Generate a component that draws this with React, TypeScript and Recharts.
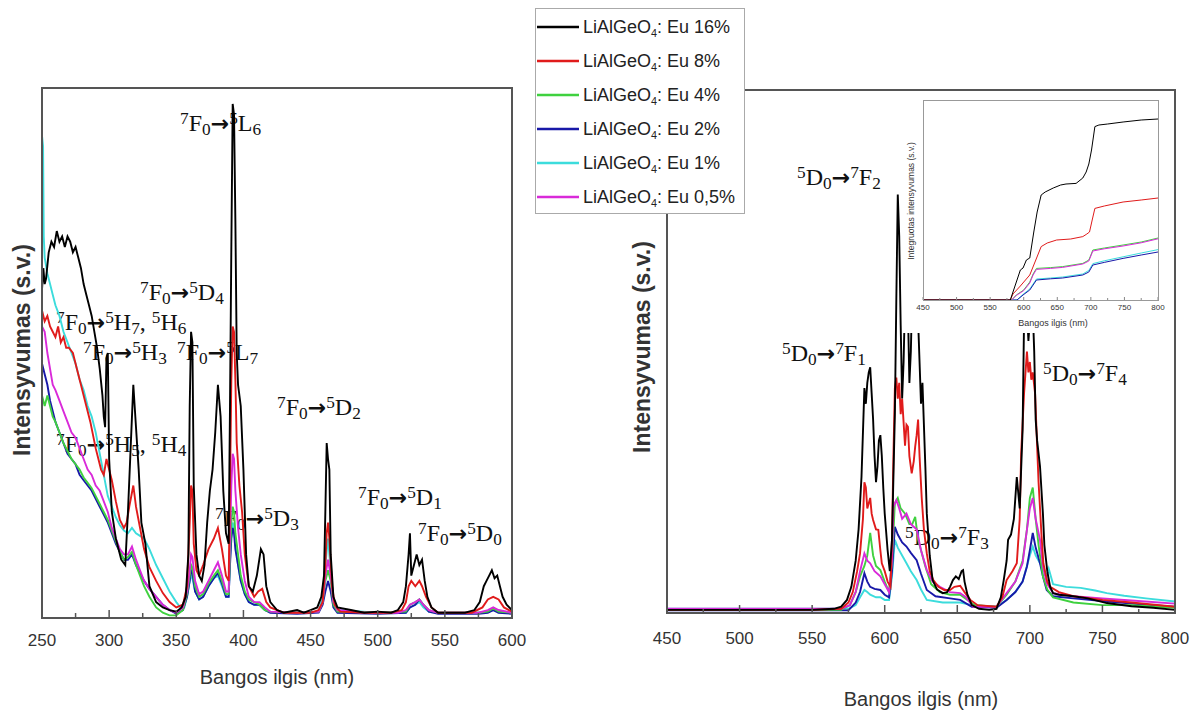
import React from 'react';
import { LineChart, Line, XAxis, YAxis } from 'recharts';

type Pt = [number, number];
type Term = [string, string, string];

const concentrations = ['16%', '8%', '4%', '2%', '1%', '0,5%'];

// excitation spectra (left panel): [nm, intensity]
const exc16: Pt[] = [[250,62],[251,66],[252,63],[253,64],[255,69],[257,71],[259,70],[261,73],[263,71],[265,72],[267,70],[269,72],[271,71],[273,69],[275,70],[277,68],[279,66],[281,63],[283,61],[285,59],[287,57],[289,54],[291,51],[293,47],[295,42],[296,38],[297,36],[298,49],[299,50],[300,30],[302,20],[305,15],[309,11],[312,10],[314,20],[316,32],[318,44],[320,36],[322,28],[324,18],[327,14],[330,6],[335,3],[340,2],[345,1.5],[350,1.2],[354,2],[357,4],[359,12],[360,40],[361,54],[362,52],[363,25],[365,12],[367,8],[369,7],[371,10],[373,18],[375,24],[377,28],[379,35],[381,44],[383,38],[385,24],[387,16],[389,14],[390,40],[391,70],[392,97],[393,95],[394,75],[395,50],[396,44],[398,40],[400,28],[402,12],[404,6],[407,5],[410,8],[413,13],[415,12],[417,6],[420,3],[425,1.5],[430,1],[440,1.5],[445,1],[450,1.5],[455,2],[458,4],[460,8],[461,20],[462,33],[463,30],[464,28],[465,12],[467,4],[470,2],[480,1.5],[490,1],[500,1.2],[510,1],[515,1.5],[519,3],[521,6],[523,12],[524,16],[525,8],[527,10],[529,12],[531,10],[533,11],[535,7],[537,4],[540,2],[545,1],[555,1],[565,1],[572,1.5],[576,3],[579,6],[581,7],[583,8],[585,9],[587,7.5],[589,8],[591,6],[593,4],[596,2.5],[600,1.5]];
const exc8: Pt[] = [[250,58],[252,56],[254,57],[256,55],[258,54],[260,53],[262,55],[264,52],[266,53],[268,51],[270,51],[273,50],[276,47],[279,44],[282,41],[286,37],[290,32],[294,28],[296,27],[298,30],[300,28],[302,26],[305,22],[308,18.5],[311,17],[313,18],[315,21],[318,25],[320,21],[323,17],[326,13],[330,9.6],[335,7],[340,4.7],[345,3],[350,2],[355,2.5],[358,6],[360,18],[361,25],[362,24],[363,14],[365,9],[367,8],[370,10],[374,13],[378,15],[381,17],[384,13],[387,8],[389,7],[390,25],[391,45],[392,55],[393,54],[394,45],[395,33],[397,25],[399,20],[401,12],[404,6],[408,4],[411,5],[414,5.5],[417,3],[420,2],[430,1],[450,1],[456,1.5],[459,3],[461,10],[462,16],[463,18],[464,15],[466,6],[468,2.5],[472,1.2],[490,1],[510,1],[518,1.5],[521,3],[523,6],[525,7],[528,6],[531,7],[533,6],[536,4],[540,2],[545,1],[570,1],[578,2],[582,3.5],[586,4],[590,3.5],[594,2],[600,1.2]];
const exc4: Pt[] = [[250,42],[252,40],[254,42],[256,40],[258,38],[260,37],[263,35],[266,33],[269,31.5],[272,30],[275,29],[278,28],[281,26.5],[284,25.5],[287,24.5],[290,23],[293,21.5],[296,20],[299,18.5],[302,16.5],[305,14.5],[308,12.5],[311,11],[314,11.5],[317,12.5],[320,10],[323,8],[326,6],[330,4],[335,2],[340,1],[345,0.5],[350,0.5],[355,1.5],[358,4.5],[360,8],[361,10],[362,9.5],[364,6],[367,4],[370,4.5],[374,6.5],[378,8],[381,9],[384,7],[387,4.5],[389,4.5],[390,12],[391,18],[392,21],[393,20],[394,16],[396,12],[398,8],[401,5],[404,3.5],[408,3],[412,2.5],[416,1.5],[420,1.2],[440,1],[456,1.2],[459,3],[461,7],[463,9],[465,7],[467,2.5],[470,1.2],[500,1],[521,1.2],[524,2.5],[528,3],[531,3.5],[534,2.5],[538,1.5],[545,1],[575,1],[582,1.2],[586,1.8],[590,1.2],[600,1]];
const exc2: Pt[] = [[250,48],[252,46],[254,44],[256,41],[258,39],[260,37],[263,35],[266,33],[269,31],[272,30],[275,29],[278,27],[281,26],[284,25],[287,24],[290,22.5],[293,21],[296,19.5],[299,18],[302,16],[305,14],[308,12.5],[311,11],[314,11],[317,12],[320,10],[323,8.5],[326,7],[330,5.5],[335,4],[340,2.5],[345,1.5],[350,0.8],[355,1.5],[358,4],[360,7],[361,9],[362,8.5],[364,5],[367,3.5],[370,4],[374,6],[378,7.5],[381,8.5],[384,6.5],[387,4],[389,4],[390,10],[391,15],[392,17],[393,16],[394,13],[396,10],[398,7],[401,4.5],[404,3],[408,2.5],[412,2.5],[416,1.5],[420,1],[440,0.8],[456,1],[459,2.5],[461,5],[463,7],[465,5],[467,2],[470,1],[500,0.8],[521,1],[524,2],[528,2.5],[531,3.5],[534,2.5],[538,1.2],[545,0.8],[575,0.8],[582,1],[586,1.5],[590,1],[600,0.8]];
const exc1: Pt[] = [[250,91],[250.8,89],[251.3,72],[252,68],[254,65],[256,63],[258,61],[260,59],[263,57],[266,54],[269,52],[272,50],[275,48],[278,45],[281,43],[284,40],[287,38],[290,35],[293,31],[296,27],[299,23],[302,21],[305,19],[308,17.5],[311,16.5],[314,16],[317,17],[320,16],[323,15.5],[326,15],[330,13],[335,10],[340,7.5],[345,5],[350,3],[353,2],[356,2],[358,4],[360,7],[361,8],[362,7.5],[364,5],[367,3.5],[370,4],[374,6],[378,7.5],[381,8],[384,6],[387,4],[389,4],[390,11],[391,16],[392,18],[393,17],[394,14],[396,10],[398,7],[401,4.5],[404,3],[408,2.5],[412,2.5],[416,1.5],[420,1.2],[440,1],[456,1.2],[459,4],[461,10],[463,15],[465,9],[467,3],[470,1.5],[500,1],[521,1],[524,2],[528,2.5],[531,3],[534,2],[538,1.2],[545,1],[575,1],[582,1.2],[586,1.5],[590,1.2],[600,1]];
const exc05: Pt[] = [[250,55],[252,54],[254,50],[256,47],[258,44],[260,43],[263,41],[266,39],[269,37],[272,35],[275,34],[278,32],[281,30],[284,28],[287,27],[290,25],[293,24],[296,22],[299,20],[302,17],[305,15],[308,13],[311,12],[314,12],[317,13.5],[320,11],[323,9],[326,7],[330,5.5],[335,4],[340,2.5],[345,1.5],[350,1],[355,2],[358,5],[360,9],[361,12],[362,11.5],[364,7],[367,4.5],[370,5],[374,7],[378,9],[381,10.5],[384,8],[387,5],[389,5],[390,15],[391,25],[392,31],[393,30],[394,24],[396,17],[398,12],[401,7],[404,4],[408,3],[412,3],[416,2],[420,1.2],[440,1],[456,1.2],[459,3],[461,8],[463,11],[465,8],[467,3],[470,1.5],[490,1],[515,1],[521,1.5],[524,2.5],[528,3],[531,3.5],[534,2.5],[538,1.5],[545,1],[575,1],[582,1.5],[586,2],[590,1.5],[600,1]];

// emission spectra (right panel)
const em16: Pt[] = [[450,0.6],[500,0.6],[550,0.6],[565,0.8],[570,1.2],[574,2.5],[577,5],[580,10],[582,16],[584,26],[586,43],[587,40],[588,44],[589,46],[590,47],[591,42],[592,37],[593,30],[594,25],[595,28],[596,33],[597,34],[598,30],[599,24],[600,19],[602,12],[603.5,8],[605,14],[606,26],[607,38],[608,60],[609,80],[610,72],[611,55],[612,41],[613,48],[614,60],[615,66],[616,58],[617,44],[618,50],[619,62],[620,66],[621,60],[622,66],[623,56],[624,48],[625,40],[626,44],[627,36],[628,28],[629,19],[631,11],[633,6.3],[636,4.5],[640,3.8],[643,4],[645,5],[647,6.3],[649,7],[651,6.5],[653,8],[654,8.2],[655,6],[657,3.5],[660,1.5],[665,0.8],[672,0.6],[677,0.8],[680,3],[682,6.3],[684,10],[685,14],[687,15],[689,18],[691,26],[693,20],[695,35],[696,56],[697,64],[698,58],[699,52],[700,56],[701,62],[702,58],[703,50],[704,37],[705,33],[707,28],[709,19],[710,13],[712,8],[714,5],[716,3.8],[720,3.5],[730,3.2],[740,2.8],[753,1.9],[770,1.3],[785,1],[800,0.6]];
const em8: Pt[] = [[450,0.6],[550,0.6],[570,0.8],[575,2],[578,4],[581,8],[583,11.4],[585,18],[586,25],[587,24],[588,20],[590,22],[591,19],[592,17.8],[594,16],[595.6,15.9],[597,12],[598,9.5],[600,8],[602,6],[604,5],[605,14],[606,30],[607,43],[608,45],[609,41],[610,44],[611,38],[612,41],[614,32],[615,36],[616,35.6],[617,30],[618.6,26.7],[620,29],[621,31.8],[622,34],[623,37],[624,30],[625.5,22],[627,16],[629,11.4],[631,8],[633.5,6.3],[637,5],[641,4.4],[645,4.4],[648,5],[652,5.2],[655,4],[659,2.5],[664,1.5],[677,1.2],[681,3],[684,6.3],[688,8],[691,9.5],[693,18],[694,30.5],[696,42],[698,50],[699,46],[700,48],[701,44.6],[702,46],[703.6,42],[705,32],[706,25],[708,15],[709.3,9.5],[712,6],[714,5],[720,4],[730,3.2],[750,2.5],[770,2],[800,1.2]];
const em4: Pt[] = [[450,0.6],[570,0.6],[576,1.5],[580,4],[583,7],[586,9],[588,11],[590,15.3],[592,11],[594,9],[597,8.2],[600,6],[603,4],[605,10],[607,21],[609,22],[611,20],[614,19],[617,17],[619,17],[621,18.4],[623,14],[625,12],[628,8.9],[632,5.5],[638,4],[645,3.5],[652,3.5],[657,2.5],[662,1.5],[677,1.2],[684,3.5],[690,6],[695,10],[698,16],[700,22],[702,24],[704,18],[706,13],[709,7],[712,4.5],[716,3],[730,2],[750,1.5],[770,1.5],[800,1]];
const em2: Pt[] = [[450,0.5],[575,0.5],[580,2],[583,4],[586,7.6],[588,6],[590,5],[593,4.6],[597,4.4],[600,3.5],[603,3],[605,8],[607,16.5],[609,15],[612,13.5],[615,12.7],[618,11.5],[622,10.1],[625,7.5],[629,4.4],[635,3.2],[645,2.8],[652,2.5],[660,1.2],[677,1],[684,2.5],[690,4],[695,6],[698,8.9],[700,12],[702,15.3],[704,12.5],[707,9.5],[709,7],[711.6,4.4],[716,3.2],[730,2.8],[750,2.3],[770,1.8],[800,1.2]];
const em1: Pt[] = [[450,0.8],[575,0.8],[580,1.5],[583,3],[586,4.4],[588,4],[590,3.5],[594,3],[597,3],[600,2.5],[603,2.5],[605,7],[607,14],[609,12.5],[612,11],[615,9.5],[618,8],[622,6.3],[625,4.5],[629,2.5],[640,2],[652,2],[660,1.5],[677,1.2],[684,2.5],[690,4],[695,6],[698,9],[700,11],[702,12.7],[704,11],[707,9.5],[709,8.5],[711.6,7],[713,8.5],[716,5.5],[725,5],[735,4.8],[745,4.3],[753,3.8],[765,3.3],[780,2.8],[800,2.2]];
const em05: Pt[] = [[450,0.8],[570,0.8],[576,1.5],[580,4],[583,8],[586,11.4],[588,10],[590,9.5],[593,8],[597,7],[600,5.5],[603,4],[605,10],[606,20.3],[608,21.6],[610,20],[612,18],[615,19],[618,17],[620,16.5],[622,16],[625,12],[629,8.2],[633,6],[638,5],[645,4],[652,3.8],[656,3],[661,1.2],[677,1.2],[684,3.8],[690,6],[695,9.5],[698,16],[700,20],[702,22],[704,18],[707,14],[709,9],[711.6,5.7],[716,3.8],[730,3.2],[750,2.8],[770,2.4],[800,1.8]];

// integrated intensity (inset)
const int16: Pt[] = [[450,0],[580,0],[584,4],[590,10],[595,15],[599,16],[604,20],[609,21],[615,34],[620,44],[626,52.5],[632,54],[644,56],[655,57.5],[663,58],[678,58.3],[688,61],[693,64],[697,68],[701,75],[704,82],[706,86.7],[712,87.5],[725,88],[748,89],[775,90],[800,90.5]];
const int8: Pt[] = [[450,0],[580,0],[584,3],[595,7],[609,12.5],[618,20],[626,26.7],[635,28.5],[649,30],[670,30.5],[688,31.7],[694,33],[698,34],[702,40],[706,45.8],[720,47],[748,49],[775,50],[800,51]];
const int4: Pt[] = [[450,0],[582,0],[589,2.5],[600,5],[609,9],[614,13],[619,15.8],[640,16.2],[658,16.7],[688,18.3],[697,20],[703,25],[720,26],[748,27.5],[775,29],[800,31]];
const int2: Pt[] = [[450,0],[590,0],[599,2.5],[609,5],[619,10],[640,10.6],[658,11],[688,12.5],[697,14],[703,17.5],[720,18.8],[748,20.8],[775,22.5],[800,24]];
const int1: Pt[] = [[450,0],[590,0],[599,2.8],[609,5.5],[619,10.5],[640,11],[658,11.5],[688,13],[697,14.8],[703,18.2],[720,19.6],[748,21.6],[775,23.5],[800,25.2]];
const int05: Pt[] = [[450,0],[582,0],[589,2.3],[600,4.7],[609,8.5],[614,12.5],[619,15.3],[640,15.8],[658,16.3],[688,18],[697,19.5],[703,24.5],[720,25.6],[748,27],[775,28.6],[800,30.6]];

const excTicks = [250, 300, 350, 400, 450, 500, 550, 600];
const excMinor = [275, 325, 375, 425, 475, 525, 575];
const emTicks = [450, 500, 550, 600, 650, 700, 750, 800];
const emMinor = [475, 525, 575, 625, 675, 725, 775];

const excSeries = [exc16, exc8, exc4, exc2, exc1, exc05];
const emSeries = [em16, em8, em4, em2, em1, em05];
const intSeries = [int16, int8, int4, int2, int1, int05];

const colors = ['#000000', '#e01b1b', '#3fd13f', '#1818a8', '#3cdcdc', '#d92ad9'];
const drawOrder = [4, 3, 2, 5, 1, 0];

const sans = '"Liberation Sans", Arial, sans-serif';
const serif = '"Liberation Serif", "Times New Roman", serif';

function makeTick(labels: number[], dy: number, fontSize: number, major: number, minor: number, color: string, sw: number) {
  return (props: any) => {
    const { x, y, payload } = props;
    const isMajor = labels.includes(payload.value);
    return (
      <g>
        <line x1={x} x2={x} y1={y} y2={y - (isMajor ? major : minor)} stroke={color} strokeWidth={sw} />
        {isMajor && (
          <text x={x} y={y + dy} textAnchor="middle" fontSize={fontSize} fill="#333" fontFamily={sans}>
            {payload.value}
          </text>
        )}
      </g>
    );
  };
}

function Panel(p: {
  series: Pt[][]; domain: [number, number]; ticks: number[]; minor: number[];
  width: number; height: number; margin: any; axisHeight: number;
  tick: any; lineWidth: number;
}) {
  return (
    <LineChart width={p.width} height={p.height} margin={p.margin}>
      <XAxis
        dataKey="nm" type="number" domain={p.domain} ticks={[...p.ticks, ...p.minor]} interval={0}
        height={p.axisHeight} axisLine={false} tickLine={false} tickSize={0} tickMargin={0}
        allowDataOverflow tick={p.tick}
      />
      <YAxis hide type="number" domain={[0, 100]} allowDataOverflow />
      {drawOrder.map((i) => (
        <Line
          key={i}
          data={p.series[i].map(([nm, v]) => ({ nm, v }))}
          dataKey="v"
          type="linear"
          stroke={colors[i]}
          strokeWidth={p.lineWidth}
          dot={false}
          isAnimationActive={false}
        />
      ))}
    </LineChart>
  );
}

const sup = (s: string) => <span style={{ fontSize: '0.72em', position: 'relative', top: '-0.42em' }}>{s}</span>;
const sub = (s: string) => <span style={{ fontSize: '0.72em', position: 'relative', top: '0.22em' }}>{s}</span>;
const term = ([a, b, c]: Term) => <>{sup(a)}{b}{sub(c)}</>;

function Annot({ x, y, from, to }: { x: number; y: number; from: Term; to: Term[] }) {
  return (
    <div style={{ position: 'absolute', left: x, top: y - 12, fontFamily: serif, fontSize: 24, lineHeight: 1, whiteSpace: 'nowrap', color: '#111' }}>
      {term(from)}
      <span style={{ fontFamily: '"DejaVu Sans", sans-serif', fontWeight: 'bold', fontSize: '0.92em' }}>→</span>
      {to.map((t, i) => (
        <React.Fragment key={i}>{i > 0 && ', '}{term(t)}</React.Fragment>
      ))}
    </div>
  );
}

function VLabel({ cx, cy, text, size, bold }: { cx: number; cy: number; text: string; size: number; bold?: boolean }) {
  return (
    <div style={{ position: 'absolute', left: cx, top: cy, transform: 'translate(-50%, -50%) rotate(-90deg)', whiteSpace: 'nowrap', fontFamily: sans, fontSize: size, fontWeight: bold ? 'bold' : 'normal', color: '#333' }}>
      {text}
    </div>
  );
}

function HLabel({ cx, cy, text, size }: { cx: number; cy: number; text: string; size: number }) {
  return (
    <div style={{ position: 'absolute', left: cx, top: cy, transform: 'translate(-50%, -50%)', whiteSpace: 'nowrap', fontFamily: sans, fontSize: size, color: '#333' }}>
      {text}
    </div>
  );
}

function Legend() {
  return (
    <div style={{ position: 'absolute', left: 535, top: 8, width: 210, height: 206, boxSizing: 'border-box', border: '1px solid #aaa', background: '#fff', paddingTop: 1 }}>
      {concentrations.map((c, i) => (
        <div key={c} style={{ height: 34, display: 'flex', alignItems: 'center' }}>
          <svg width={42} height={6} style={{ marginLeft: 1 }}>
            <line x1={0} x2={42} y1={3} y2={3} stroke={colors[i]} strokeWidth={2.5} />
          </svg>
          <span style={{ marginLeft: 4, fontSize: 18, color: '#222', fontFamily: sans, whiteSpace: 'nowrap' }}>
            LiAlGeO<span style={{ fontSize: '0.6em', position: 'relative', top: '0.4em' }}>4</span>: Eu {c}
          </span>
        </div>
      ))}
    </div>
  );
}

const frame = (left: number, top: number, width: number, height: number, color: string, bw: number) => (
  <div style={{ position: 'absolute', left, top, width, height, boxSizing: 'border-box', border: `${bw}px solid ${color}` }} />
);

export default function App() {
  return (
    <div style={{ position: 'absolute', left: 0, top: 0, width: 1192, height: 713, background: '#fff', overflow: 'hidden' }}>
      {/* transition labels, left panel */}
      <Annot x={180} y={123} from={['7', 'F', '0']} to={[['5', 'L', '6']]} />
      <Annot x={140} y={292} from={['7', 'F', '0']} to={[['5', 'D', '4']]} />
      <Annot x={56} y={322} from={['7', 'F', '0']} to={[['5', 'H', '7'], ['5', 'H', '6']]} />
      <Annot x={83} y={352} from={['7', 'F', '0']} to={[['5', 'H', '3']]} />
      <Annot x={177} y={352} from={['7', 'F', '0']} to={[['5', 'L', '7']]} />
      <Annot x={56} y={444} from={['7', 'F', '0']} to={[['5', 'H', '5'], ['5', 'H', '4']]} />
      <Annot x={215} y={518} from={['7', 'F', '0']} to={[['5', 'D', '3']]} />
      <Annot x={277} y={407} from={['7', 'F', '0']} to={[['5', 'D', '2']]} />
      <Annot x={358} y={497} from={['7', 'F', '0']} to={[['5', 'D', '1']]} />
      <Annot x={418} y={533} from={['7', 'F', '0']} to={[['5', 'D', '0']]} />
      {/* transition labels, right panel */}
      <Annot x={797} y={177} from={['5', 'D', '0']} to={[['7', 'F', '2']]} />
      <Annot x={782} y={353} from={['5', 'D', '0']} to={[['7', 'F', '1']]} />
      <Annot x={905} y={537} from={['5', 'D', '0']} to={[['7', 'F', '3']]} />
      <Annot x={1043} y={373} from={['5', 'D', '0']} to={[['7', 'F', '4']]} />

      <div style={{ position: 'absolute', left: 0, top: 0 }}>
        <Panel
          series={excSeries} domain={[250, 600]} ticks={excTicks} minor={excMinor}
          width={560} height={713} margin={{ top: 88, right: 48, bottom: 65, left: 42 }} axisHeight={30}
          tick={makeTick(excTicks, 28, 17, 8, 5, '#555', 1.5)} lineWidth={1.9}
        />
      </div>
      <div style={{ position: 'absolute', left: 600, top: 0 }}>
        <Panel
          series={emSeries} domain={[450, 800]} ticks={emTicks} minor={emMinor}
          width={592} height={713} margin={{ top: 90, right: 17, bottom: 70, left: 67 }} axisHeight={30}
          tick={makeTick(emTicks, 31, 17, 8, 4, '#555', 1.5)} lineWidth={1.9}
        />
      </div>

      {frame(41, 87, 472, 532, '#555', 2)}
      {frame(666, 89, 510, 525, '#555', 2)}

      <VLabel cx={22} cy={350} text="Intensyvumas (s.v.)" size={23} bold />
      <VLabel cx={642} cy={347} text="Intensyvumas (s.v.)" size={23} bold />
      <HLabel cx={277} cy={677} text="Bangos ilgis (nm)" size={20} />
      <HLabel cx={921} cy={699} text="Bangos ilgis (nm)" size={20} />

      {/* inset: integrated intensity */}
      <div style={{ position: 'absolute', left: 902, top: 95, width: 265, height: 238, background: '#fff' }} />
      <div style={{ position: 'absolute', left: 905, top: 95 }}>
        <Panel
          series={intSeries} domain={[450, 800]} ticks={emTicks} minor={emMinor}
          width={260} height={240} margin={{ top: 5, right: 7, bottom: 23, left: 18 }} axisHeight={12}
          tick={makeTick(emTicks, 10, 8, 3, 2, '#888', 1)} lineWidth={1}
        />
      </div>
      {frame(923, 100, 236, 201, '#999', 1)}
      <VLabel cx={911} cy={201} text="Integruotas intensyvumas (s.v.)" size={8.5} />
      <HLabel cx={1053} cy={323} text="Bangos ilgis (nm)" size={9} />

      <Legend />
    </div>
  );
}
